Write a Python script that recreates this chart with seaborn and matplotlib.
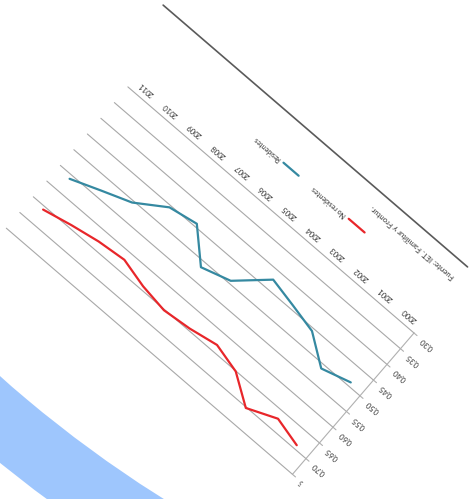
import numpy as np
import pandas as pd
import matplotlib
matplotlib.use("Agg")
import matplotlib.pyplot as plt
from matplotlib.transforms import Affine2D
from matplotlib.patches import Wedge, Polygon
import seaborn as sns

# ---------------- data ----------------
years = ["2000", "2001", "2002", "2003", "2004", "2005",
         "2006", "2007", "2008", "2009", "2010", "2011"]
residentes = [0.490, 0.511, 0.457, 0.440, 0.424, 0.493,
              0.515, 0.442, 0.455, 0.505, 0.532, 0.560]
no_residentes = [0.690, 0.671, 0.702, 0.651, 0.632, 0.645,
                 0.652, 0.641, 0.622, 0.629, 0.642, 0.658]
y_ticks = [0.30, 0.35, 0.40, 0.45, 0.50, 0.55, 0.60, 0.65, 0.70, 0.75]
y_tick_labels = ["0,30", "0,35", "0,40", "0,45", "0,50",
                 "0,55", "0,60", "0,65", "0,70", "0,75"]
series_names = ["No residentes", "Residentes"]
series_colors = {"No residentes": "#e8262a", "Residentes": "#3589a1"}
source_text = "Fuente: IET. Familitur y Frontur."

# ---------------- style ----------------
sns.set_style("white")
plt.rcParams["font.family"] = ["Lato", "DejaVu Sans"]

W, H = 475, 499
fig = plt.figure(figsize=(W / 100, H / 100), dpi=100)
bg = fig.add_axes([0, 0, 1, 1])
bg.set_xlim(0, W)
bg.set_ylim(0, H)
bg.axis("off")

# decorative light-blue band (slide background)
band = Wedge((812.6, H + 536.5), 1288, 200, 260, width=66,
             facecolor="#9ec6fd", edgecolor="none", zorder=0)
bg.add_patch(band)

# rotated chart frame (the slide picture is turned upside down and tilted)
ANGLE = 139.3
ORIGIN = (414, H - 333)
CAT_W = 31.45
PX_PER_UNIT = 414.2
Y0 = y_ticks[0]
frame = Affine2D().rotate_deg(ANGLE).translate(*ORIGIN) + bg.transData
data_tr = Affine2D().translate(0.5, -Y0).scale(CAT_W, PX_PER_UNIT) + frame

x_min, x_max = -0.5, len(years) - 0.5
txt_kw = dict(rotation=ANGLE, rotation_mode="anchor", color="#333333")

# gridlines
for v in y_ticks:
    bg.plot([x_min, x_max], [v, v], transform=data_tr,
            color="#a8a8a8", lw=0.8, zorder=1)
# value axis line + ticks
bg.plot([x_min, x_min], [y_ticks[0], y_ticks[-1]], transform=data_tr,
        color="#b0b0b0", lw=0.8, zorder=1)
for v, lab in zip(y_ticks, y_tick_labels):
    ay = (v - Y0) * PX_PER_UNIT
    bg.plot([-4, 0], [ay, ay], transform=frame, color="#b0b0b0", lw=0.8)
    bg.text(-9, ay, lab, transform=frame, ha="right", va="center",
            fontsize=5.5, zorder=2, **txt_kw)

# white edge of the original picture, which cuts the last value label
bg.add_patch(Polygon([(-13.5, 178), (-13.5, 400), (-200, 400), (-200, 178)],
                     closed=True, transform=frame, facecolor="white",
                     edgecolor="none", zorder=5))

# category labels
for i, yr in enumerate(years):
    bg.text(i, Y0 - 7 / PX_PER_UNIT, yr, transform=data_tr,
            ha="center", va="top", fontsize=5.5, **txt_kw)

# series lines
df = pd.DataFrame({
    "idx": list(range(len(years))) * 2,
    "valor": no_residentes + residentes,
    "serie": [series_names[0]] * len(years) + [series_names[1]] * len(years),
})
sns.lineplot(data=df, x="idx", y="valor", hue="serie", palette=series_colors,
             linewidth=1.6, legend=False, errorbar=None, sort=False,
             ax=bg, transform=data_tr, zorder=3)

# legend (rotated with the chart)
leg_items = [(series_names[0], 103, 124, 128), (series_names[1], 190, 210, 215)]
for name, x0, x1, xt in leg_items:
    bg.plot([x0, x1], [-44, -44], transform=frame,
            color=series_colors[name], lw=1.6)
    bg.text(xt, -44, name, transform=frame, ha="left", va="center",
            fontsize=5.0, **txt_kw)

# source note
bg.text(6, -68, source_text, transform=frame, ha="left", va="center",
        fontsize=5.6, **txt_kw)

# dark separator line of the slide
bg.plot([2.5, 404], [-85, -85], transform=frame, color="#5a5a5a", lw=1.2)

bg.set_xlim(0, W)
bg.set_ylim(0, H)
bg.axis("off")
fig.savefig("out.png", dpi=100)
